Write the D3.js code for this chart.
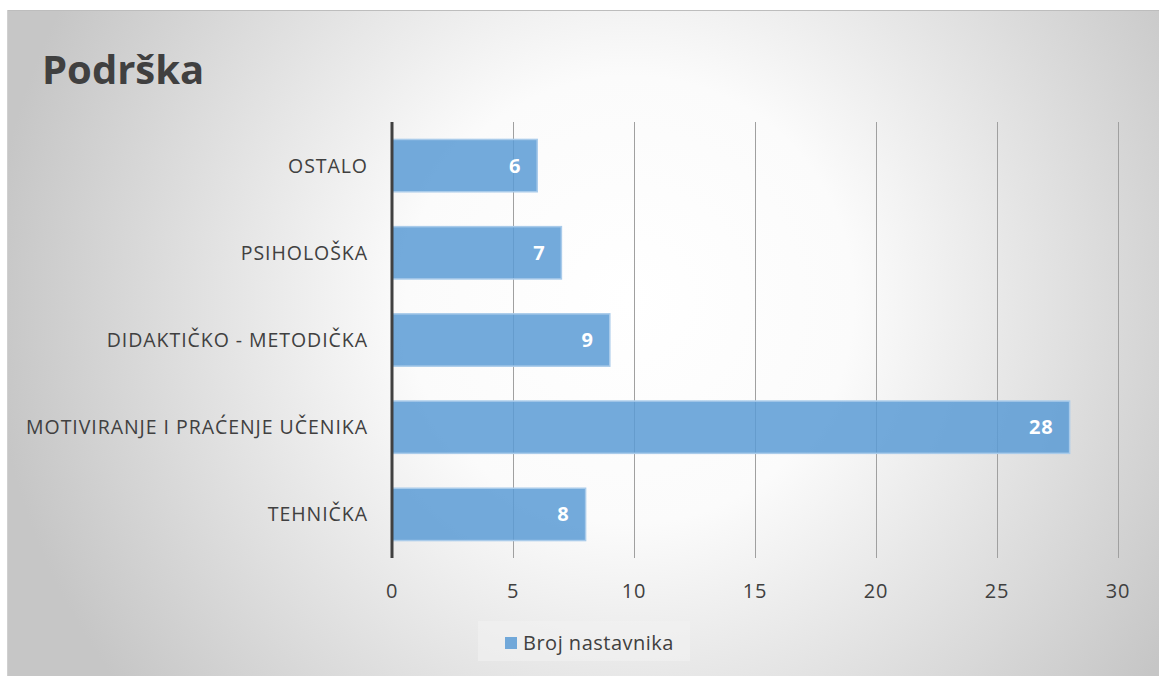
<!DOCTYPE html>
<html>
<head>
<meta charset="utf-8">
<script src="https://cdn.jsdelivr.net/npm/d3@7"></script>
<style>
  body { margin: 0; background: #fff; }
  text { font-family: "Open Sans", "Noto Sans", sans-serif; }
</style>
</head>
<body>
<div id="chart"></div>
<script>
// data
var categories = ["OSTALO", "PSIHOLOŠKA", "DIDAKTIČKO - METODIČKA", "MOTIVIRANJE I PRAĆENJE UČENIKA", "TEHNIČKA"]
var values = [6, 7, 9, 28, 8]
var xTicks = [0, 5, 10, 15, 20, 25, 30]
var seriesName = "Broj nastavnika"
var title = "Podrška"

var W = 1159, H = 676
var svg = d3.select('#chart').append('svg').attr('width', W).attr('height', H)

var defs = svg.append('defs')
var grad = defs.append('radialGradient').attr('id', 'bg')
  .attr('gradientUnits', 'userSpaceOnUse')
  .attr('cx', 630).attr('cy', 300).attr('r', 640)
grad.append('stop').attr('offset', '0%').attr('stop-color', '#ffffff')
grad.append('stop').attr('offset', '35%').attr('stop-color', '#fbfbfb')
grad.append('stop').attr('offset', '100%').attr('stop-color', '#c6c6c6')

// frame
svg.append('rect').attr('x', 7).attr('y', 10).attr('width', W - 7).attr('height', H - 10)
  .attr('fill', 'url(#bg)')
svg.append('line').attr('x1', 7).attr('x2', W).attr('y1', 10.5).attr('y2', 10.5)
  .attr('stroke', '#bdbdbd')
svg.append('line').attr('x1', 7.5).attr('x2', 7.5).attr('y1', 10).attr('y2', H)
  .attr('stroke', '#d0d0d0')

svg.append('text').attr('x', 42).attr('y', 84)
  .attr('font-size', 40).attr('font-weight', 'bold').attr('fill', '#404040')
  .text(title)

var x = d3.scaleLinear().domain([0, 30]).range([392, 1118])
var y = d3.scaleBand().domain(categories).range([122, 558]).paddingInner(0.4).paddingOuter(0.2)

// grid
svg.append('g').selectAll('line').data(xTicks.slice(1)).enter()
  .append('line')
  .attr('x1', function(d){ return x(d) + 0.5 })
  .attr('x2', function(d){ return x(d) + 0.5 })
  .attr('y1', 122).attr('y2', 558)
  .attr('stroke', '#a0a0a0').attr('stroke-width', 1)

// bars
svg.append('g').selectAll('rect').data(values).enter()
  .append('rect')
  .attr('x', x(0))
  .attr('y', function(d, i){ return y(categories[i]) })
  .attr('width', function(d){ return x(d) - x(0) })
  .attr('height', y.bandwidth())
  .attr('fill', '#5b9bd5').attr('fill-opacity', 0.85)
  .attr('stroke', '#a9cbea').attr('stroke-width', 1.5)

// value labels
svg.append('g').selectAll('text').data(values).enter()
  .append('text')
  .attr('x', function(d){ return x(d) - 16 })
  .attr('y', function(d, i){ return y(categories[i]) + y.bandwidth() / 2 + 7 })
  .attr('text-anchor', 'end')
  .attr('font-size', 20).attr('font-weight', 'bold').attr('fill', '#fff')
  .attr('letter-spacing', 0.8)
  .text(function(d){ return d })

// category labels
svg.append('g').selectAll('text').data(categories).enter()
  .append('text')
  .attr('x', 368)
  .attr('y', function(d){ return y(d) + y.bandwidth() / 2 + 7 })
  .attr('text-anchor', 'end')
  .attr('font-size', 19.5).attr('fill', '#404040')
  .attr('letter-spacing', 0.95)
  .text(function(d){ return d })

// axis line
svg.append('line').attr('x1', x(0)).attr('x2', x(0)).attr('y1', 122).attr('y2', 558)
  .attr('stroke', '#404040').attr('stroke-width', 3)

// tick labels
svg.append('g').selectAll('text').data(xTicks).enter()
  .append('text')
  .attr('x', function(d){ return x(d) })
  .attr('y', 598)
  .attr('text-anchor', 'middle')
  .attr('font-size', 20).attr('fill', '#404040')
  .attr('letter-spacing', 0.8)
  .text(function(d){ return d })

// legend
var lg = svg.append('g')
lg.append('rect').attr('x', 478).attr('y', 621).attr('width', 212).attr('height', 40)
  .attr('fill', '#f2f2f2').attr('fill-opacity', 0.6)
lg.append('rect').attr('x', 505).attr('y', 637).attr('width', 12).attr('height', 12)
  .attr('fill', '#5b9bd5').attr('fill-opacity', 0.85)
lg.append('text').attr('x', 523).attr('y', 650)
  .attr('font-size', 20).attr('fill', '#404040')
  .attr('letter-spacing', 0.5)
  .text(seriesName)
</script>
</body>
</html>
